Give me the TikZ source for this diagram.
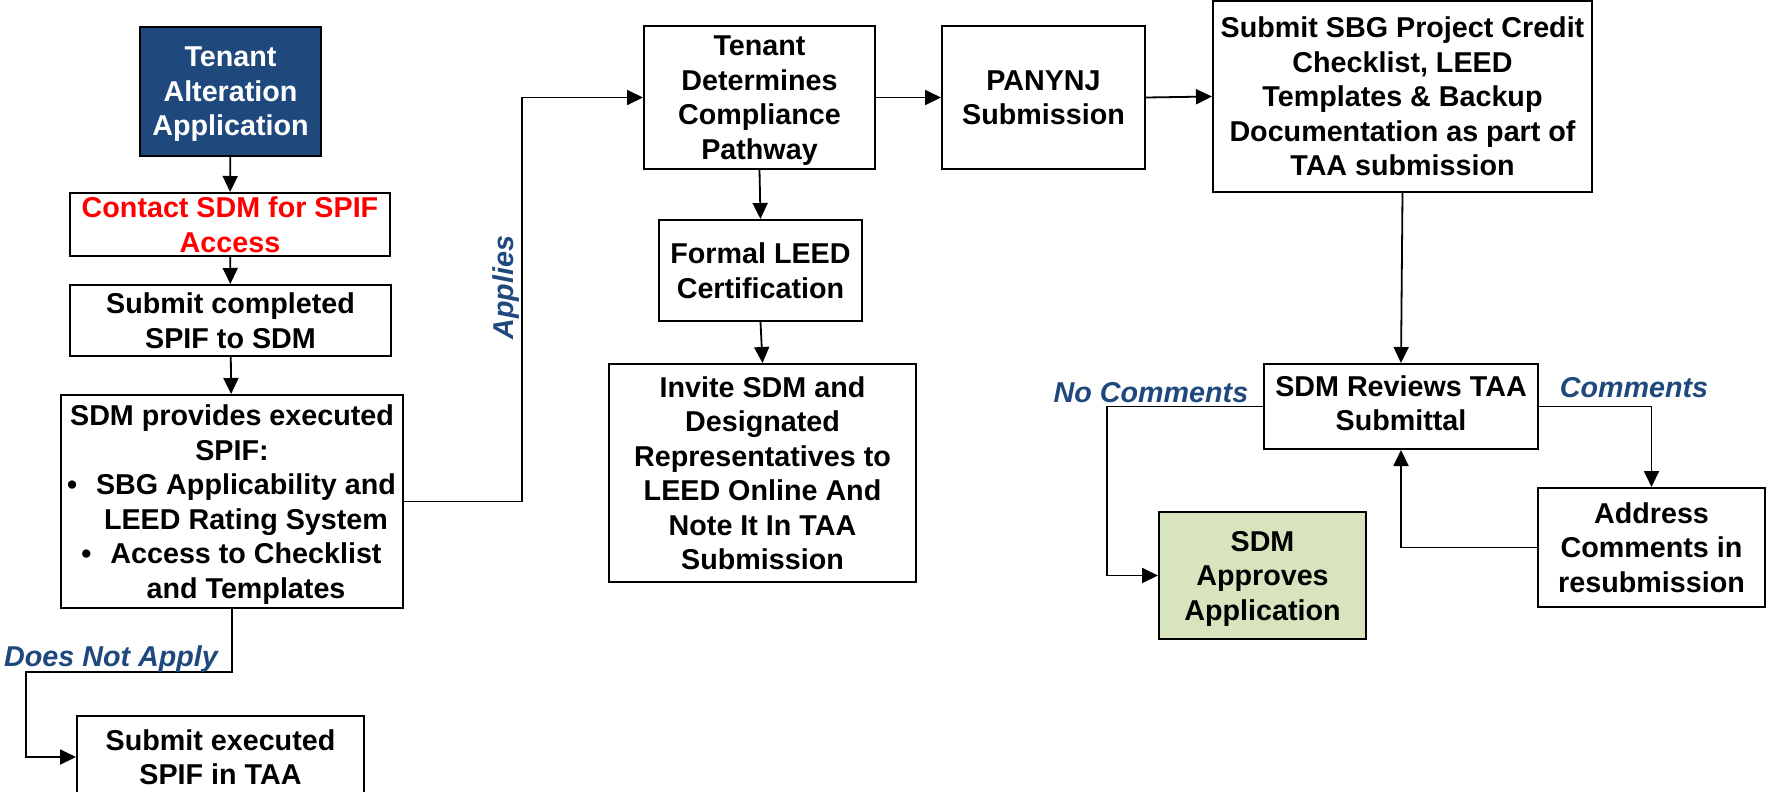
\documentclass[tikz,border=0pt]{standalone}
\usepackage{fontspec}
\setmainfont{Liberation Sans}
\usetikzlibrary{arrows.meta}
\definecolor{navy}{HTML}{1F497D}
\definecolor{lblue}{HTML}{1F497D}
\definecolor{sage}{HTML}{D7E4BD}
\begin{document}
\begin{tikzpicture}[x=1pt,y=-1pt,
  box/.style={draw=black, line width=2pt, fill=white, inner sep=0pt, align=center,
    font=\fontsize{28.7}{34.5}\selectfont\bfseries},
  arr/.style={line width=1.8pt, -{Triangle[length=16pt,width=15pt]}},
  tag/.style={text=lblue, inner sep=0pt, font=\fontsize{28.7}{34.5}\selectfont\bfseries\itshape}]
\useasboundingbox (0,0) rectangle (1769,792);
\clip (0,0) rectangle (1769,792);

% left column (text depth nudges the text block up or down inside its box)
\node[box, fill=navy, text=white, text depth=-10pt, minimum width=181pt, minimum height=129pt] (tal) at (230.5,91.5)
  {Tenant\\Alteration\\Application};
\node[box, text=red, minimum width=320pt, minimum height=63pt] (contact) at (230,224.5)
  {Contact SDM for SPIF\\Access};
\node[box, text depth=-13pt, minimum width=321pt, minimum height=71pt] (submitc) at (230.5,320.5)
  {Submit completed\\SPIF to SDM};
\node[box, text depth=-7pt, minimum width=342pt, minimum height=213pt] (provides) at (232,501.5)
  {SDM provides executed\\
   SPIF:\\
   \hspace*{28pt}\llap{•\hspace{19pt}}SBG Applicability and\\
   \hspace*{28pt}LEED Rating System\\
   \hspace*{28pt}\llap{•\hspace{19pt}}Access to Checklist\\
   \hspace*{28pt}and Templates};
\node[box, text depth=-4pt, minimum width=287pt, minimum height=82pt] (exec) at (220.5,757)
  {Submit executed\\SPIF in TAA};

% middle column
\node[box, text depth=-12.5pt, minimum width=231pt, minimum height=143pt] (tdet) at (759.5,97.5)
  {Tenant\\Determines\\Compliance\\Pathway};
\node[box, text depth=-10.5pt, minimum width=203pt, minimum height=101pt] (formal) at (760.5,270.5)
  {Formal LEED\\Certification};
\node[box, text depth=-8pt, minimum width=307pt, minimum height=218pt] (invite) at (762.5,473)
  {Invite SDM and\\Designated\\Representatives to\\LEED Online And\\Note It In TAA\\Submission};
\node[box, text depth=-11pt, minimum width=203pt, minimum height=143pt] (panynj) at (1043.5,97.5)
  {PANYNJ\\Submission};

% right column
\node[box, text depth=-11pt, minimum width=379pt, minimum height=191pt] (sbg) at (1402.5,96.5)
  {Submit SBG Project Credit\\Checklist, LEED\\Templates \& Backup\\Documentation as part of\\TAA submission};
\node[box, text depth=6.5pt, minimum width=274pt, minimum height=85pt] (reviews) at (1401,406.5)
  {SDM Reviews TAA\\Submittal};
\node[box, fill=sage, text depth=-6pt, minimum width=207pt, minimum height=127pt] (approves) at (1262.5,575.5)
  {SDM\\Approves\\Application};
\node[box, text depth=-8pt, minimum width=227pt, minimum height=119pt] (address) at (1651.5,547.5)
  {Address\\Comments in\\resubmission};

% turning points of the elbow connectors
\coordinate (applies) at (522,97.5);
\coordinate (dna) at (26,672);
\coordinate (nocom) at (1107,406.5);

% connectors
\draw[arr] (tal) -- (contact);
\draw[arr] (contact) -- (submitc);
\draw[arr] (submitc) -- (provides);
\draw[arr] (provides.east) -| (applies) -- (tdet.west);
\draw[arr] (provides.south) |- (dna) |- (exec.west);
\draw[arr] (tdet.south) -- (formal.north);
\draw[arr] (formal.south) -- (invite.north);
\draw[arr] (tdet.east) -- (panynj.west);
\draw[arr] (panynj.east) -- (sbg.west);
\draw[arr] (sbg.south) -- (reviews.north);
\draw[arr] (reviews.west) -- (nocom) |- (approves.west);
\draw[arr] (reviews.east) -| (address.north);
\draw[arr] (address.west) -| (reviews.south);

% connector labels
\node[tag, rotate=90, anchor=base] (lapplies) at (513,287.5) {Applies};
\node[tag, anchor=base] (ldna) at (111,666) {Does Not Apply};
\node[tag, anchor=base] (lnocom) at (1151,402) {No Comments};
\node[tag, anchor=base] (lcom) at (1634,397) {Comments};
\end{tikzpicture}
\end{document}
